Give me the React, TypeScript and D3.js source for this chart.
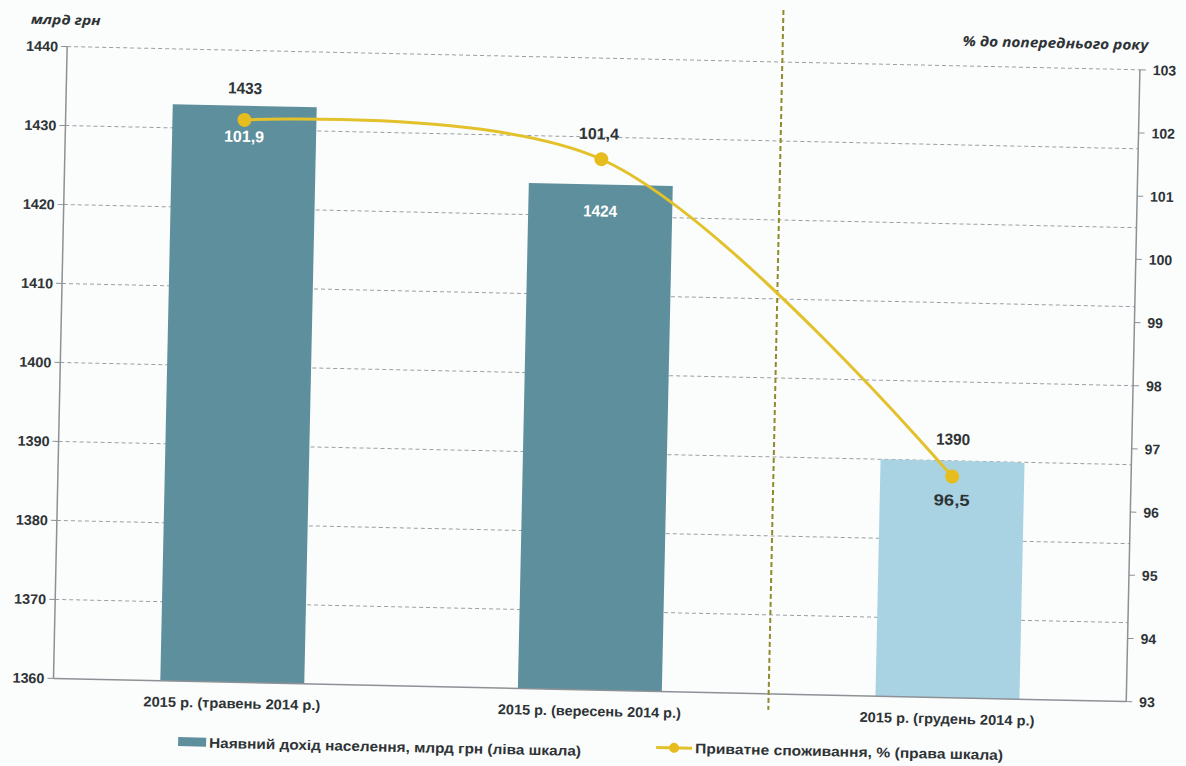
import React from "react";
import * as d3 from "d3";

const categories = ["2015 р. (травень 2014 р.)", "2015 р. (вересень 2014 р.)", "2015 р. (грудень 2014 р.)"];
const incomeValues = [1433, 1424, 1390];
const incomeLabels = ["1433", "1424", "1390"];
const consumptionValues = [101.9, 101.4, 96.5];
const consumptionLabels = ["101,9", "101,4", "96,5"];
const leftTicks = [1360, 1370, 1380, 1390, 1400, 1410, 1420, 1430, 1440];
const rightTicks = [93, 94, 95, 96, 97, 98, 99, 100, 101, 102, 103];
const legendIncome = "Наявний дохід населення, млрд грн (ліва шкала)";
const legendConsumption = "Приватне споживання, % (права шкала)";
const leftTitle = "млрд грн";
const rightTitle = "% до попереднього року";

const W = 1186;
const H = 766;
const X0 = 60;
const X1 = 1133;
const Y0 = 58;
const Y1 = 690;

const FONT = "'Liberation Sans', Arial, sans-serif";
const TITLE_FONT = "'Open Sans', 'Noto Sans', sans-serif";
const INK = "#2e3336";
const BAR_DARK = "#5e8f9d";
const BAR_LIGHT = "#a9d3e3";
const LINE = "#e3c12a";
const MARK = "#e6bd1c";
const catWidths = [177, 183, 175];

export default function App() {
  const x = d3.scaleBand<string>().domain(categories).range([X0, X1]).paddingInner(0).paddingOuter(0);
  const yL = d3.scaleLinear().domain([1360, 1440]).range([Y1, Y0]);
  const yR = d3.scaleLinear().domain([93, 103]).range([Y1, Y0]);
  const barW = 144;
  const cx = (c: string) => (x(c) as number) + x.bandwidth() / 2;

  const pts: [number, number][] = categories.map((c, i) => [cx(c), yR(consumptionValues[i])]);
  const linePath = d3.line().curve(d3.curveCatmullRom.alpha(0.5))(pts) || "";
  const divX = x(categories[2]) as number;

  return (
    <svg width={W} height={H} style={{ position: "absolute", left: 0, top: 0, background: "#fbfcfc" }}>
      <rect x={0} y={0} width={W} height={H} fill="#fbfcfc" />
      <g transform={`rotate(1.24 593 383)`}>
        {leftTicks.filter((t) => t !== 1360).map((t) => (
          <line key={"g" + t} x1={X0} x2={X1} y1={yL(t)} y2={yL(t)} stroke="#9a9fa3" strokeWidth={1} strokeDasharray="4,3" />
        ))}
        {categories.map((c, i) => (
          <rect key={"b" + i} x={cx(c) - barW / 2} y={yL(incomeValues[i])} width={barW} height={Y1 - yL(incomeValues[i])}
            fill={i === 2 ? BAR_LIGHT : BAR_DARK} />
        ))}
        <line x1={X0} x2={X1} y1={Y1} y2={Y1} stroke="#8c9196" strokeWidth={1.5} />
        <line x1={X0} x2={X0} y1={Y0} y2={Y1} stroke="#8c9196" strokeWidth={1.5} />
        <line x1={X1} x2={X1} y1={Y0} y2={Y1} stroke="#8c9196" strokeWidth={1.5} />
        {leftTicks.map((t) => (
          <g key={"lt" + t}>
            <line x1={X0 - 6} x2={X0} y1={yL(t)} y2={yL(t)} stroke="#8c9196" strokeWidth={1} />
            <text x={X0 - 9} y={yL(t)} dy="0.36em" textAnchor="end" fontFamily={FONT} fontWeight="bold" fontSize={14} fill={INK}
              textLength={32} lengthAdjust="spacingAndGlyphs">{t}</text>
          </g>
        ))}
        {rightTicks.map((t) => (
          <g key={"rt" + t}>
            <line x1={X1} x2={X1 + 6} y1={yR(t)} y2={yR(t)} stroke="#8c9196" strokeWidth={1} />
            <text x={X1 + 13} y={yR(t)} dy="0.36em" textAnchor="start" fontFamily={FONT} fontWeight="bold" fontSize={14} fill={INK}>{t}</text>
          </g>
        ))}
        <line x1={divX} x2={divX} y1={6} y2={706} stroke="#8f8a2c" strokeWidth={2} strokeDasharray="5,3" />
        <text x={23} y={36} fontFamily={TITLE_FONT} fontStyle="italic" fontWeight="bold" fontSize={13} fill={INK}
          textLength={70} lengthAdjust="spacingAndGlyphs">{leftTitle}</text>
        <text x={1141} y={38} textAnchor="end" fontFamily={TITLE_FONT} fontStyle="italic" fontWeight="bold" fontSize={14} fill={INK}
          textLength={186} lengthAdjust="spacingAndGlyphs">{rightTitle}</text>
        {categories.map((c, i) => (
          <text key={"c" + c} x={cx(c)} y={716} textAnchor="middle" fontFamily={FONT} fontWeight="bold" fontSize={14} fill={INK}
            textLength={catWidths[i]} lengthAdjust="spacingAndGlyphs">{c}</text>
        ))}
        <path d={linePath} fill="none" stroke={LINE} strokeWidth={3} />
        {pts.map((p, i) => (
          <circle key={"p" + i} cx={p[0]} cy={p[1]} r={7} fill={MARK} />
        ))}
        <text x={cx(categories[0])} y={yL(incomeValues[0]) - 12} textAnchor="middle" fontFamily={FONT} fontWeight="bold" fontSize={16} fill={INK}
          textLength={34} lengthAdjust="spacingAndGlyphs">{incomeLabels[0]}</text>
        <text x={cx(categories[1])} y={yL(incomeValues[1]) + 32} textAnchor="middle" fontFamily={FONT} fontWeight="bold" fontSize={16} fill="#ffffff"
          textLength={34} lengthAdjust="spacingAndGlyphs">{incomeLabels[1]}</text>
        <text x={cx(categories[2])} y={yL(incomeValues[2]) - 16} textAnchor="middle" fontFamily={FONT} fontWeight="bold" fontSize={16} fill={INK}
          textLength={34} lengthAdjust="spacingAndGlyphs">{incomeLabels[2]}</text>
        <text x={pts[0][0]} y={pts[0][1] + 22} textAnchor="middle" fontFamily={FONT} fontWeight="bold" fontSize={16} fill="#ffffff"
          textLength={40} lengthAdjust="spacingAndGlyphs">{consumptionLabels[0]}</text>
        <text x={pts[1][0] - 3} y={pts[1][1] - 20} textAnchor="middle" fontFamily={FONT} fontWeight="bold" fontSize={16} fill={INK}
          textLength={40} lengthAdjust="spacingAndGlyphs">{consumptionLabels[1]}</text>
        <text x={pts[2][0]} y={pts[2][1] + 29} textAnchor="middle" fontFamily={FONT} fontWeight="bold" fontSize={16} fill={INK}
          textLength={36} lengthAdjust="spacingAndGlyphs">{consumptionLabels[2]}</text>
        <rect x={186} y={746} width={28} height={9} fill={BAR_DARK} />
        <text x={217} y={756} fontFamily={FONT} fontWeight="bold" fontSize={14} fill={INK}
          textLength={372} lengthAdjust="spacingAndGlyphs">{legendIncome}</text>
        <line x1={664} x2={700} y1={746} y2={746} stroke={LINE} strokeWidth={3} />
        <circle cx={682} cy={746} r={5} fill={MARK} />
        <text x={703} y={751} fontFamily={FONT} fontWeight="bold" fontSize={14} fill={INK}
          textLength={308} lengthAdjust="spacingAndGlyphs">{legendConsumption}</text>
      </g>
    </svg>
  );
}
